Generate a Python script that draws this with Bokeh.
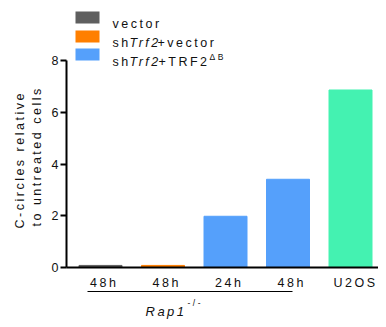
import math
from bokeh.plotting import figure
from bokeh.models import LinearAxis, FixedTicker, Range1d, ColumnDataSource
from bokeh.core.properties import value
from bokeh.embed import file_html
from bokeh.resources import INLINE

# ---------------- data ----------------
x_labels = ["48h", "48h", "24h", "48h", "U2OS"]
c_circles = [0.08, 0.08, 1.98, 3.41, 6.86]
bar_colors = ["#5f5f5f", "#ff7f00", "#55a0fb", "#55a0fb", "#44f2b1"]
y_ticks = [0, 2, 4, 6, 8]
legend_colors = ["#5f5f5f", "#ff7f00", "#55a0fb"]
y_label_lines = ["C-circles relative", "to untreated cells"]
group_label = "Rap1"
group_sup = "-/-"

# ---------------- layout ----------------
W, H = 378, 319
PX_X1 = 100.0     # figure px of x = 1
DX = 62.5         # px per category
PX_Y0 = 267.0     # figure px (from top) of y = 0
DY = 25.875       # px per unit

def fx(px):  # figure px -> data x
    return 1 + (px - PX_X1) / DX

def fy(py):  # figure px -> data y
    return (PX_Y0 - py) / DY

x_start, x_end = fx(0), fx(W)
y_end, y_start = fy(0), fy(H)

p = figure(width=W, height=H, output_backend="svg", toolbar_location=None,
           x_range=Range1d(x_start, x_end), y_range=Range1d(y_start, y_end),
           x_axis_location=None, y_axis_location=None,
           min_border=0, min_border_left=0, min_border_right=0,
           min_border_top=0, min_border_bottom=0)
p.outline_line_color = None
p.xgrid.visible = False
p.ygrid.visible = False
p.background_fill_color = "white"
p.styles = {"letter-spacing": "2.5px"}

FONT = value("Liberation Sans")
TXT = "#111111"

src = ColumnDataSource(dict(x=list(range(1, len(c_circles) + 1)), top=c_circles, color=bar_colors))
p.vbar(x="x", top="top", bottom=0, width=43 / DX, color="color", source=src)

# axes
ya = LinearAxis(ticker=FixedTicker(ticks=y_ticks), fixed_location=fx(66), bounds=(0, 8))
ya.axis_line_width = 2
ya.axis_line_color = "black"
ya.major_tick_line_width = 2
ya.major_tick_out = 6
ya.major_tick_in = 0
ya.minor_tick_out = 0
ya.minor_tick_in = 0
ya.major_label_text_font = "Liberation Sans"
ya.major_label_text_font_size = "12.5px"
ya.major_label_text_color = TXT
ya.major_label_standoff = 2
p.add_layout(ya, "left")

xa = LinearAxis(ticker=FixedTicker(ticks=list(range(1, len(x_labels) + 1))),
                fixed_location=0, bounds=(fx(66), x_end))
xa.major_label_overrides = {i + 1: lab for i, lab in enumerate(x_labels)}
xa.axis_line_width = 2
xa.axis_line_color = "black"
xa.major_tick_out = 0
xa.major_tick_in = 0
xa.minor_tick_out = 0
xa.minor_tick_in = 0
xa.major_label_text_font = "Liberation Sans"
xa.major_label_text_font_size = "12.5px"
xa.major_label_text_color = TXT
xa.major_label_standoff = 8
p.add_layout(xa, "below")

def txt(xp, yp, s, size, style="normal", align="left", baseline="alphabetic", angle=0.0):
    p.text(x=[fx(xp)], y=[fy(yp)], text=[s], text_font=FONT, text_font_size=size,
           text_font_style=style, text_align=align, text_baseline=baseline,
           angle=angle, text_color=TXT)

# y axis label (two lines, rotated, reading upwards from their start)
txt(19.5, 228, y_label_lines[0], "12.5px", angle=math.pi / 2)
txt(36.5, 226, y_label_lines[1], "12.5px", angle=math.pi / 2)

# legend
sq_tops = [11, 30, 48]
p.quad(left=[fx(75)] * 3, right=[fx(99)] * 3,
       top=[fy(t) for t in sq_tops], bottom=[fy(t + 12) for t in sq_tops],
       color=legend_colors, line_color=None)
base = [23.5, 42.5, 61]
txt(112, base[0], "vector", "12.5px")
txt(112, base[1], "sh", "12.5px")
txt(129, base[1], "Trf2", "12.5px", style="italic")
txt(157, base[1], "+vector", "12.5px")
txt(112, base[2], "sh", "12.5px")
txt(129, base[2], "Trf2", "12.5px", style="italic")
txt(158, base[2], "+TRF2", "12.5px")
txt(209, base[2] - 4.5, "\u0394B", "8.5px")

# group bracket and label
p.segment(x0=[fx(87)], x1=[fx(292)], y0=[fy(291)], y1=[fy(291)], line_color="black", line_width=1)
txt(145, 311, group_label, "13px", style="italic")
txt(187, 302, group_sup, "8.5px")

open("out.html", "w").write(file_html(p, INLINE))
